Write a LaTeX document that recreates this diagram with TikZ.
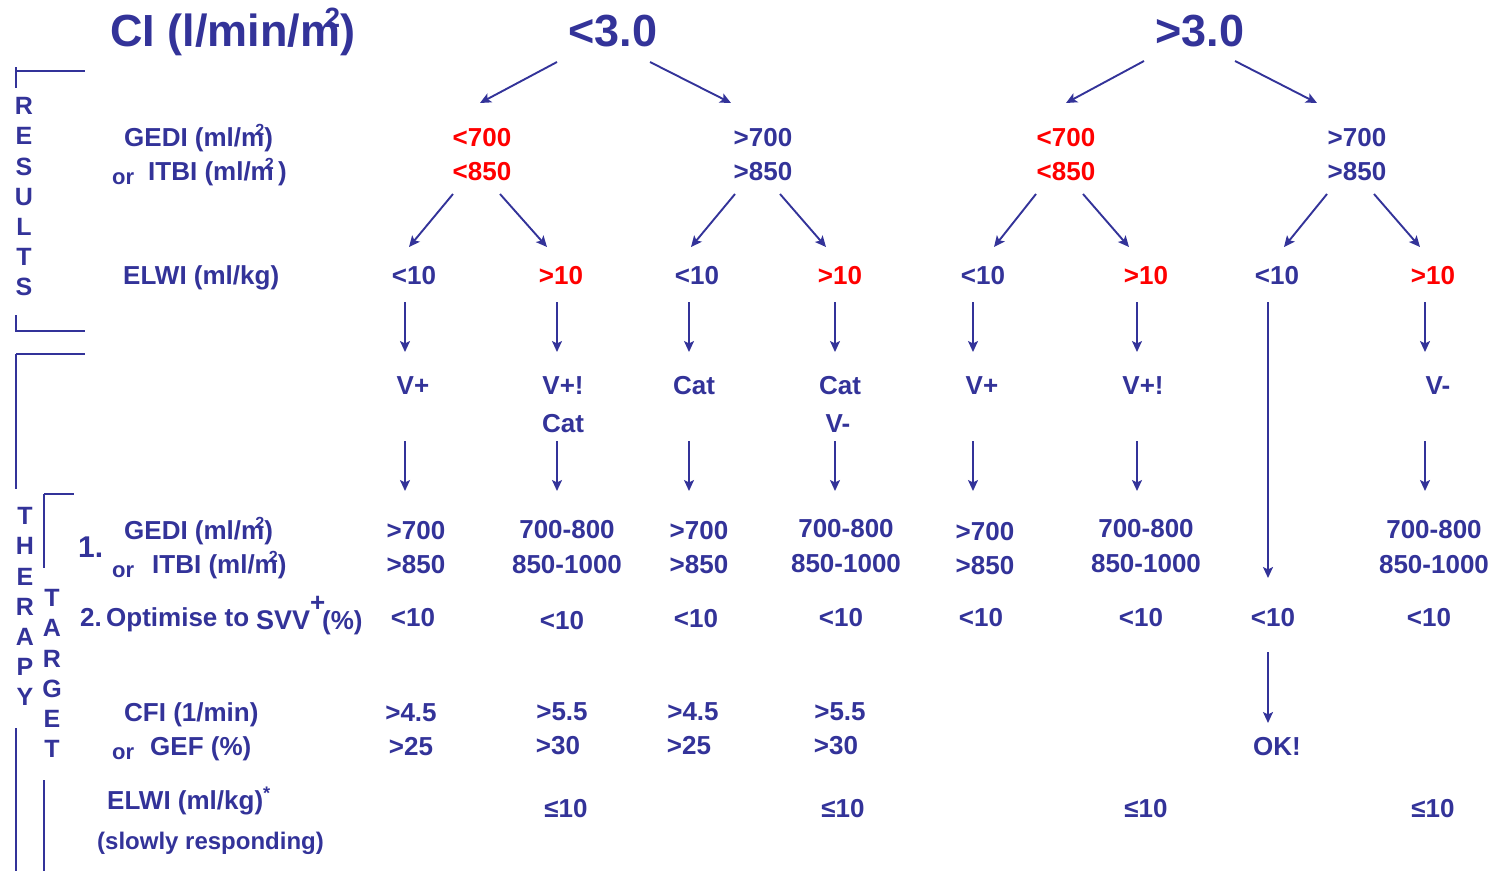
\documentclass[tikz,border=0pt]{standalone}
\usepackage{fontspec}
\setmainfont{Liberation Sans}
\usetikzlibrary{arrows.meta}
\definecolor{myblue}{RGB}{51,51,153}
\definecolor{myred}{RGB}{255,0,0}
\newcommand{\msq}{m\llap{\raisebox{0.42em}{\scalebox{0.62}{2}}}}
\begin{document}
\begin{tikzpicture}[x=1pt,y=-1pt,
 txt/.style={text=myblue,font=\fontsize{26}{30}\selectfont\bfseries,inner sep=0pt,anchor=base},
 rtxt/.style={txt,text=myred},
 bigtxt/.style={txt,font=\fontsize{45}{50}\selectfont\bfseries},
 ortxt/.style={txt,font=\fontsize{22}{26}\selectfont\bfseries},
 smtxt/.style={txt,font=\fontsize{24}{28}\selectfont\bfseries},
 vlet/.style={text=myblue,font=\fontsize{25}{30}\selectfont\bfseries,inner sep=0pt,anchor=center},
 arr/.style={draw=myblue,line width=1.9pt,-{Stealth[length=11pt,width=10pt,inset=2.5pt]}},
 brk/.style={draw=myblue,line width=2pt}]
\useasboundingbox (0,0) rectangle (1497,871);

% titles
\node[bigtxt,anchor=base west] (ci) at (110,46) {CI (l/min/\msq)};
\node[bigtxt] (lt3) at (613,46) {<3.0};
\node[bigtxt] (gt3) at (1200,46) {>3.0};

% left labels (results)
\node[txt,anchor=base west] (gediA) at (124,146) {GEDI (ml/\msq)};
\node[ortxt,anchor=base west] (orA) at (112,184) {or};
\node[txt,anchor=base west] (itbiA) at (148,180) {ITBI (ml/\msq\,)};
\node[txt,anchor=base west] (elwiA) at (123,284) {ELWI (ml/kg)};

% level 2
\node[rtxt] (a700) at (482,146) {<700}; \node[rtxt] (a850) at (482,180) {<850};
\node[txt]  (b700) at (763,146) {>700}; \node[txt]  (b850) at (763,180) {>850};
\node[rtxt] (c700) at (1066,146) {<700}; \node[rtxt] (c850) at (1066,180) {<850};
\node[txt]  (d700) at (1357,146) {>700}; \node[txt]  (d850) at (1357,180) {>850};

% level 3
\node[txt]  (e1) at (414,284) {<10};
\node[rtxt] (e2) at (561,284) {>10};
\node[txt]  (e3) at (697,284) {<10};
\node[rtxt] (e4) at (840,284) {>10};
\node[txt]  (e5) at (983,284) {<10};
\node[rtxt] (e6) at (1146,284) {>10};
\node[txt]  (e7) at (1277,284) {<10};
\node[rtxt] (e8) at (1433,284) {>10};

% therapy
\node[txt] (t1) at (413,394) {V+};
\node[txt] (t2) at (563,394) {V+!};
\node[txt] (t2b) at (563,432) {Cat};
\node[txt] (t3) at (694,394) {Cat};
\node[txt] (t4) at (840,394) {Cat};
\node[txt] (t4b) at (838,432) {V-};
\node[txt] (t5) at (982,394) {V+};
\node[txt] (t6) at (1143,394) {V+!};
\node[txt] (t8) at (1438,394) {V-};

% target 1 labels
\node[font=\fontsize{30}{34}\selectfont\bfseries,text=myblue,inner sep=0pt,anchor=base west] (one) at (78,557) {1.};
\node[txt,anchor=base west] (gediB) at (124,539) {GEDI (ml/\msq)};
\node[ortxt,anchor=base west] (orB) at (112,577) {or};
\node[txt,anchor=base west] (itbiB) at (152,573) {ITBI (ml/\msq)};

% target 1 values
\node[txt] (g1a) at (416,539) {>700};   \node[txt] (g1b) at (416,573) {>850};
\node[txt] (g2a) at (567,538) {700-800}; \node[txt] (g2b) at (567,573) {850-1000};
\node[txt] (g3a) at (699,539) {>700};   \node[txt] (g3b) at (699,573) {>850};
\node[txt] (g4a) at (846,537) {700-800}; \node[txt] (g4b) at (846,572) {850-1000};
\node[txt] (g5a) at (985,540) {>700};   \node[txt] (g5b) at (985,574) {>850};
\node[txt] (g6a) at (1146,537) {700-800}; \node[txt] (g6b) at (1146,572) {850-1000};
\node[txt] (g8a) at (1434,538) {700-800}; \node[txt] (g8b) at (1434,573) {850-1000};

% target 2
\node[txt,anchor=base west] (two) at (80,626) {2.};
\node[txt,anchor=base west] (opt) at (106,626) {Optimise to};
\node[txt,anchor=base west,font=\fontsize{27}{30}\selectfont\bfseries] (svv) at (256,629) {SVV};
\node[txt,anchor=base west] (plus) at (310,611) {+};
\node[txt,anchor=base west] (pct) at (322,629) {(\%)};
\node[txt] (s1) at (413,626) {<10};
\node[txt] (s2) at (562,629) {<10};
\node[txt] (s3) at (696,627) {<10};
\node[txt] (s4) at (841,626) {<10};
\node[txt] (s5) at (981,626) {<10};
\node[txt] (s6) at (1141,626) {<10};
\node[txt] (s7) at (1273,626) {<10};
\node[txt] (s8) at (1429,626) {<10};

% CFI
\node[txt,anchor=base west] (cfi) at (124,721) {CFI (1/min)};
\node[ortxt,anchor=base west] (orC) at (112,759) {or};
\node[txt,anchor=base west] (gef) at (150,755) {GEF (\%)};
\node[txt] (c1a) at (411,721) {>4.5}; \node[txt] (c1b) at (411,755) {>25};
\node[txt] (c2a) at (562,720) {>5.5}; \node[txt] (c2b) at (558,754) {>30};
\node[txt] (c3a) at (693,720) {>4.5}; \node[txt] (c3b) at (689,754) {>25};
\node[txt] (c4a) at (840,720) {>5.5}; \node[txt] (c4b) at (836,754) {>30};
\node[txt] (ok) at (1277,755) {OK!};

% ELWI slowly
\node[txt,anchor=base west] (elwiC) at (107,809) {ELWI (ml/kg)\textsuperscript{*}};
\node[smtxt,anchor=base west] (slow) at (97,849) {(slowly responding)};
\node[txt] (w2) at (566,817) {≤10};
\node[txt] (w4) at (843,817) {≤10};
\node[txt] (w6) at (1146,817) {≤10};
\node[txt] (w8) at (1433,817) {≤10};

% vertical words
\foreach \l [count=\i] in {R,E,S,U,L,T,S}
  \node[vlet] (res\i) at (24,{106+30.2*(\i-1)}) {\l};
\foreach \l [count=\i] in {T,H,E,R,A,P,Y}
  \node[vlet] (ther\i) at (25,{516+30.2*(\i-1)}) {\l};
\foreach \l [count=\i] in {T,A,R,G,E,T}
  \node[vlet] (targ\i) at (52,{598+30.2*(\i-1)}) {\l};

% brackets
\draw[brk] (16,67) -- (16,88);
\draw[brk] (16,71) -- (85,71);
\draw[brk] (16,315) -- (16,332);
\draw[brk] (16,331) -- (85,331);
\draw[brk] (16,354) -- (85,354);
\draw[brk] (16,354) -- (16,489);
\draw[brk] (16,728) -- (16,871);
\draw[brk] (44,494) -- (74,494);
\draw[brk] (44,494) -- (44,568);
\draw[brk] (44,780) -- (44,871);

% arrows
\foreach \n/\sx/\sy/\ex/\ey in {
  p1/557/62/480/103, p2/650/62/731/103, p3/1144/61/1066/103, p4/1235/61/1317/103,
  q1/453/194/409/247, q2/500/194/547/247, q3/735/194/691/247, q4/780/194/826/247,
  q5/1036/194/994/247, q6/1083/194/1129/247, q7/1327/194/1284/247, q8/1374/194/1420/247,
  u1/405/302/405/352, u2/557/302/557/352, u3/689/302/689/352, u4/835/302/835/352,
  u5/973/302/973/352, u6/1137/302/1137/352, u8/1425/302/1425/352,
  v1/405/441/405/491, v2/557/441/557/491, v3/689/441/689/491, v4/835/441/835/491,
  v5/973/441/973/491, v6/1137/441/1137/491, v8/1425/441/1425/491,
  u7/1268/302/1268/578, ok7/1268/652/1268/723} {
  \coordinate (\n s) at (\sx,\sy);
  \coordinate (\n e) at (\ex,\ey);
  \draw[arr] (\n s) -- (\n e);
}
\end{tikzpicture}
\end{document}
